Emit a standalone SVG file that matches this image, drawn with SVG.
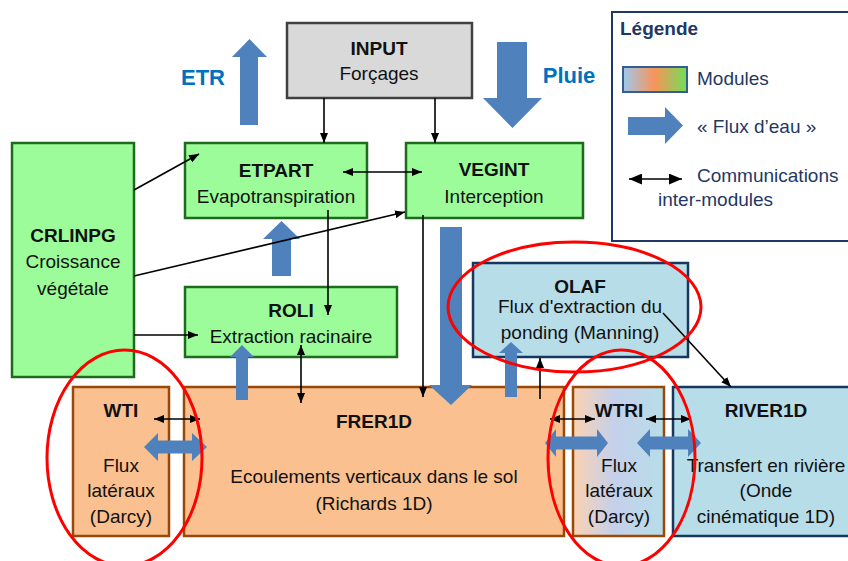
<svg xmlns="http://www.w3.org/2000/svg" width="848" height="561" viewBox="0 0 848 561">
<defs>
<marker id="ah" viewBox="0 0 10 8" refX="10" refY="4" markerWidth="10" markerHeight="8" markerUnits="userSpaceOnUse" orient="auto-start-reverse"><path d="M0,0 L10,4 L0,8 z" fill="#000"/></marker>
<marker id="ahL" viewBox="0 0 12 10" refX="12" refY="5" markerWidth="13" markerHeight="11" markerUnits="userSpaceOnUse" orient="auto-start-reverse"><path d="M0,0 L12,5 L0,10 z" fill="#000"/></marker>
<linearGradient id="gWtri" x1="0" y1="0" x2="1" y2="0"><stop offset="0" stop-color="#fbd2b2"/><stop offset="0.45" stop-color="#c5d0eb"/><stop offset="1" stop-color="#b7dde8"/></linearGradient>
<linearGradient id="gLeg" x1="0" y1="0" x2="1" y2="0"><stop offset="0" stop-color="#9ec8ee"/><stop offset="0.5" stop-color="#f89458"/><stop offset="1" stop-color="#6ee05a"/></linearGradient>
<style>
text{font-family:"Liberation Sans",Arial,sans-serif;font-size:19px;fill:#111;text-anchor:middle}
.b{font-weight:bold;font-size:19px}
.green{fill:#9cfc9a;stroke:#1d6b1d;stroke-width:2.5}
.orange{fill:#fac090;stroke:#984807;stroke-width:2.5}
.blue{fill:#b7dde8;stroke:#17375e;stroke-width:2.5}
.flux{fill:#4f81bd}
.conn{stroke:#000;stroke-width:1.6;fill:none}
.ell{fill:none;stroke:#ff0000;stroke-width:3}
.leg{fill:#1f3864;text-anchor:start}
.big{font-weight:bold;font-size:22px;fill:#0070c0}
</style>
</defs>
<rect width="848" height="561" fill="#fff"/>

<g id="INPUT"><rect x="287" y="23" width="185" height="75" fill="#d9d9d9" stroke="#404040" stroke-width="2.5"/><text x="379" y="55" class="b">INPUT</text><text x="379" y="80">Forçages</text></g>
<g id="ETPART"><rect x="185" y="143" width="182" height="75" class="green"/><text x="276" y="177" class="b">ETPART</text><text x="276" y="203">Evapotranspiration</text></g>
<g id="VEGINT"><rect x="406" y="143" width="177" height="75" class="green"/><text x="494" y="176" class="b">VEGINT</text><text x="494" y="203">Interception</text></g>
<g id="CRLINPG"><rect x="12" y="143" width="122" height="234" class="green"/><text x="73" y="242" class="b">CRLINPG</text><text x="73" y="268">Croissance</text><text x="73" y="295">végétale</text></g>
<g id="ROLI"><rect x="185" y="287" width="212" height="70" class="green"/><text x="291" y="317" class="b">ROLI</text><text x="291" y="343">Extraction racinaire</text></g>
<g id="OLAF"><rect x="473" y="263" width="215" height="94" class="blue"/><text x="580" y="293" class="b">OLAF</text><text x="580" y="313">Flux d'extraction du</text><text x="580" y="339">ponding (Manning)</text></g>
<g id="FRER1D"><rect x="184" y="387" width="380" height="149" class="orange"/><text x="374" y="428" class="b">FRER1D</text><text x="374" y="483">Ecoulements verticaux dans le sol</text><text x="374" y="510">(Richards 1D)</text></g>
<g id="WTI"><rect x="73" y="387" width="96" height="149" class="orange"/><text x="121" y="417" class="b">WTI</text><text x="121" y="472">Flux</text><text x="121" y="497">latéraux</text><text x="121" y="523">(Darcy)</text></g>
<g id="WTRI"><rect x="573" y="387" width="91" height="149" fill="url(#gWtri)" stroke="#984807" stroke-width="2.5"/><text x="619" y="417" class="b">WTRI</text><text x="619" y="472">Flux</text><text x="619" y="497">latéraux</text><text x="619" y="523">(Darcy)</text></g>
<g id="RIVER1D"><rect x="673" y="387" width="190" height="149" class="blue"/><text x="766" y="417" class="b">RIVER1D</text><text x="766" y="472">Transfert en rivière</text><text x="766" y="497">(Onde</text><text x="766" y="523">cinématique 1D)</text></g>

<g id="flux">
<text x="203" y="85" class="big">ETR</text>
<text x="569" y="83" class="big">Pluie</text>
<polygon class="flux" points="240,125 240,57 232,57 249.5,39 267,57 258,57 258,125"/>
<polygon class="flux" points="497,42 527,42 527,98 542,98 512.5,128 483,98 497,98"/>
<polygon class="flux" points="272,276 272,239 263,239 281.5,221 300,239 291,239 291,276"/>
<polygon class="flux" points="236,400 236,357 230,357 242,345 254,357 248,357 248,400"/>
<polygon class="flux" points="440,227 462,227 462,385 472,385 451,405 429,385 440,385"/>
<polygon class="flux" points="505,397 505,353 499,353 511,342 523,353 517,353 517,397"/>
<polygon class="flux" points="144,447 158,433 158,440.5 192,440.5 192,433 207,447 192,461 192,453.5 158,453.5 158,461"/>
<polygon class="flux" points="545,443 556,429 556,436.5 597,436.5 597,429 608,443 597,457 597,449.5 556,449.5 556,457"/>
<polygon class="flux" points="637,443 650,429 650,436.5 688,436.5 688,429 701,443 688,457 688,449.5 650,449.5 650,457"/>
</g>

<g id="connectors">
<line class="conn" x1="324" y1="98" x2="324" y2="143" marker-end="url(#ah)"/>
<line class="conn" x1="435" y1="98" x2="435" y2="143" marker-end="url(#ah)"/>
<line class="conn" x1="343" y1="172" x2="422" y2="172" marker-start="url(#ah)" marker-end="url(#ah)"/>
<line class="conn" x1="134" y1="190" x2="199" y2="154" marker-end="url(#ah)"/>
<line class="conn" x1="134" y1="276" x2="405" y2="212" marker-end="url(#ah)"/>
<line class="conn" x1="134" y1="335" x2="198" y2="335" marker-end="url(#ah)"/>
<line class="conn" x1="328" y1="210" x2="328" y2="315" marker-end="url(#ah)"/>
<line class="conn" x1="301" y1="345" x2="301" y2="403" marker-start="url(#ah)" marker-end="url(#ah)"/>
<line class="conn" x1="423" y1="215" x2="423" y2="397" marker-end="url(#ah)"/>
<line class="conn" x1="540" y1="399" x2="540" y2="358" marker-end="url(#ah)"/>
<line class="conn" x1="663" y1="313" x2="731" y2="387" marker-end="url(#ah)"/>
<line class="conn" x1="154" y1="419" x2="200" y2="419" marker-start="url(#ah)" marker-end="url(#ah)"/>
<line class="conn" x1="550" y1="419" x2="595" y2="419" marker-start="url(#ah)" marker-end="url(#ah)"/>
<line class="conn" x1="646" y1="419" x2="691" y2="419" marker-start="url(#ah)" marker-end="url(#ah)"/>
</g>

<g id="legende">
<rect x="612" y="12" width="250" height="229" fill="#fff" stroke="#1f3864" stroke-width="2"/>
<text x="620" y="35" class="leg b">Légende</text>
<rect x="623" y="67" width="64" height="25" fill="url(#gLeg)" stroke="#385d8a" stroke-width="2"/>
<text x="697" y="85" class="leg">Modules</text>
<polygon class="flux" points="628,117 665,117 665,107 683,125.5 665,144 665,135 628,135"/>
<text x="697" y="133" class="leg">« Flux d’eau »</text>
<line class="conn" x1="629" y1="179" x2="682" y2="179" marker-start="url(#ahL)" marker-end="url(#ahL)"/>
<text x="697" y="182" class="leg">Communications</text>
<text x="658" y="206" class="leg">inter-modules</text>
</g>

<g id="ellipses">
<ellipse class="ell" cx="124.5" cy="458" rx="77.5" ry="108"/>
<ellipse class="ell" cx="574.5" cy="307" rx="126.5" ry="65"/>
<ellipse class="ell" cx="621.5" cy="458" rx="73.5" ry="108"/>
</g>
</svg>
